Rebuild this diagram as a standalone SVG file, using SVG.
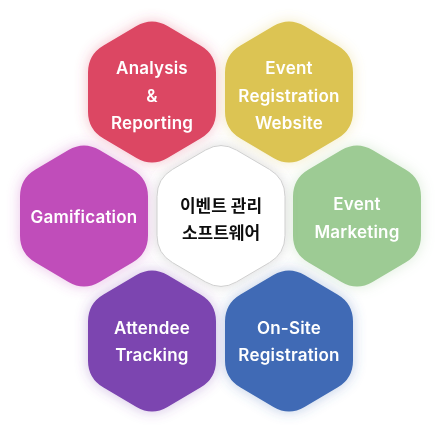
<svg xmlns="http://www.w3.org/2000/svg" xmlns:xlink="http://www.w3.org/1999/xlink" width="441" height="436" viewBox="0 0 441 436">
<style>
.lbl{font-family:"Inter","Noto Sans","Liberation Sans",sans-serif;font-size:17px;font-weight:600;fill:#ffffff;text-anchor:middle;letter-spacing:0.2px}
.ctr{font-family:"Noto Sans CJK KR","Noto Sans CJK SC",sans-serif;font-size:17px;font-weight:700;fill:#111111;text-anchor:middle}
</style>
<defs>
<path id="hex" d="M15.53,-65.9 L48.47,-46.6 Q64,-37.5 64,-19.5 L64,19.5 Q64,37.5 48.47,46.6 L15.53,65.9 Q0,75 -15.53,65.9 L-48.47,46.6 Q-64,37.5 -64,19.5 L-64,-19.5 Q-64,-37.5 -48.47,-46.6 L-15.53,-65.9 Q0,-75 15.53,-65.9 Z"/>
<filter id="glow" x="-40%" y="-40%" width="180%" height="180%">
<feGaussianBlur in="SourceGraphic" stdDeviation="7" result="b"/>
<feComponentTransfer in="b" result="c"><feFuncA type="linear" slope="0.35"/></feComponentTransfer>
<feMerge><feMergeNode in="c"/><feMergeNode in="SourceGraphic"/></feMerge>
</filter>
<filter id="glowc" x="-40%" y="-40%" width="180%" height="180%">
<feDropShadow dx="0" dy="0" stdDeviation="6" flood-color="#888888" flood-opacity="0.3"/>
</filter>
</defs>
<rect width="441" height="436" fill="#ffffff"/>
<g id="analysis" filter="url(#glow)">
<use xlink:href="#hex" href="#hex" x="152" y="92" fill="#DC4663"/>
<text class="lbl" x="152" y="74">Analysis</text>
<text class="lbl" x="152" y="102">&amp;</text>
<text class="lbl" x="152" y="129">Reporting</text>
</g>
<g id="registration-website" filter="url(#glow)">
<use xlink:href="#hex" href="#hex" x="289" y="92" fill="#DCC452"/>
<text class="lbl" x="289" y="74">Event</text>
<text class="lbl" x="289" y="102">Registration</text>
<text class="lbl" x="289" y="129">Website</text>
</g>
<g id="gamification" filter="url(#glow)">
<use xlink:href="#hex" href="#hex" x="84" y="216" fill="#C04DBA"/>
<text class="lbl" x="84" y="223">Gamification</text>
</g>
<g id="marketing" filter="url(#glow)">
<use xlink:href="#hex" href="#hex" x="357" y="216" fill="#9DCB94"/>
<text class="lbl" x="357" y="210">Event</text>
<text class="lbl" x="357" y="238">Marketing</text>
</g>
<g id="attendee" filter="url(#glow)">
<use xlink:href="#hex" href="#hex" x="152" y="341" fill="#7B44B0"/>
<text class="lbl" x="152" y="334">Attendee</text>
<text class="lbl" x="152" y="361">Tracking</text>
</g>
<g id="onsite" filter="url(#glow)">
<use xlink:href="#hex" href="#hex" x="289" y="341" fill="#3F6AB5"/>
<text class="lbl" x="289" y="334">On-Site</text>
<text class="lbl" x="289" y="361">Registration</text>
</g>
<g id="center" filter="url(#glowc)">
<use xlink:href="#hex" href="#hex" x="221" y="216" fill="#ffffff" stroke="#cfcfcf" stroke-width="1"/>
<text class="ctr" x="221" y="212">이벤트 관리</text>
<text class="ctr" x="221" y="239">소프트웨어</text>
</g>
<g id="connectors"/>
</svg>
